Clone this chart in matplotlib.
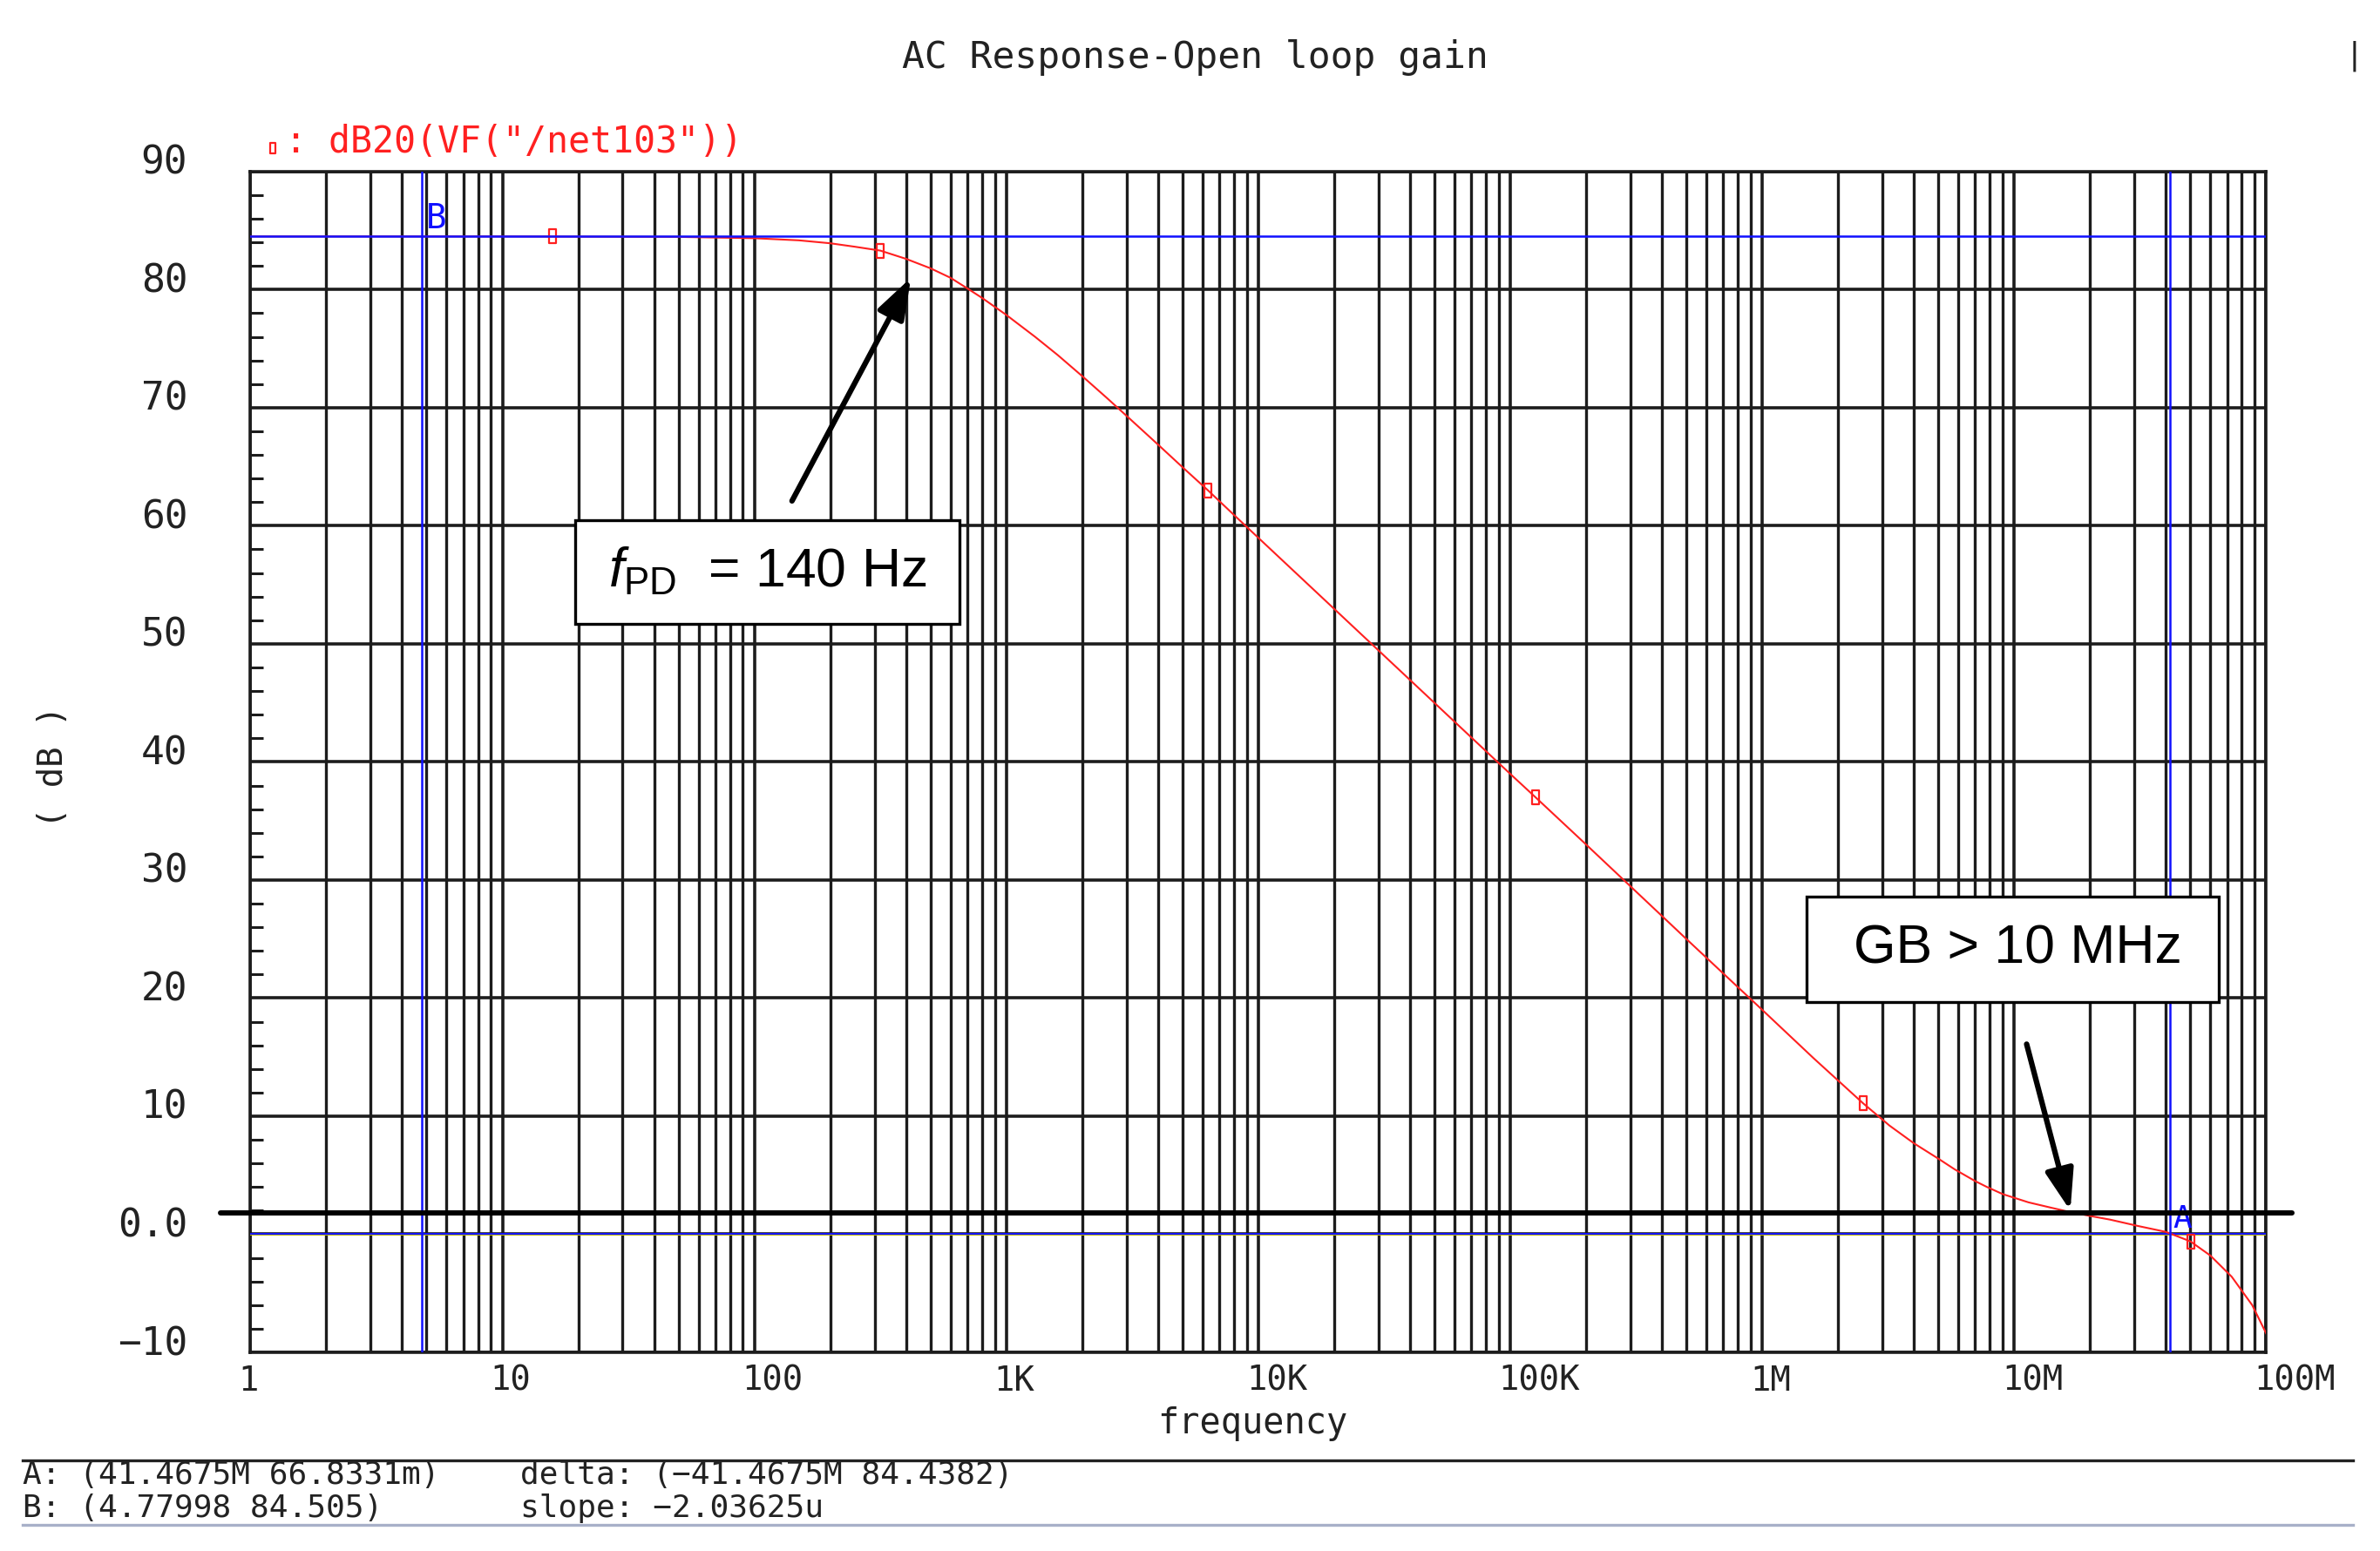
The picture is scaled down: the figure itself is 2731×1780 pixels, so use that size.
import matplotlib
matplotlib.use('Agg')
import matplotlib.pyplot as plt
import matplotlib.transforms as mtransforms
from matplotlib.ticker import FixedLocator, LogLocator, NullFormatter, MultipleLocator
from matplotlib.patches import Rectangle
from matplotlib.path import Path
from matplotlib.lines import Line2D

# ---------------- data ----------------
freq_hz = [1, 10, 50, 100, 150, 200, 250, 316, 400, 500, 600, 700, 800, 1000,
           1300, 1600, 2000, 2500, 3200, 4000, 5000, 6310, 8000, 1e4, 2e4, 5e4,
           1e5, 1.26e5, 2e5, 5e5, 1e6, 1.6e6, 2.51e6, 3.2e6, 4e6, 5e6, 5.8e6,
           7e6, 7.8e6, 9e6, 1.14e7, 1.4e7, 1.65e7, 2e7, 2.4e7, 3.1e7, 4e7,
           4.1467e7, 5e7, 6e7, 7.3e7, 8.8e7, 1e8]
gain_db = [84.5, 84.5, 84.46, 84.35, 84.17, 83.92, 83.63, 83.3, 82.6, 81.8,
           81.0, 80.1, 79.3, 77.85, 76.0, 74.45, 72.67, 70.84, 68.76, 66.87,
           64.96, 63.0, 60.92, 58.98, 52.96, 45.0, 38.98, 37.0, 33.0, 25.0,
           19.0, 14.9, 11.1, 9.2, 7.7, 6.4, 5.5, 4.5, 4.0, 3.4, 2.7, 2.25,
           1.9, 1.55, 1.24, 0.7, 0.2, 0.07, -0.6, -1.8, -3.6, -6.0, -8.4]

marker_freq_hz = [15.8, 316, 6.31e3, 1.26e5, 2.51e6, 5.01e7]
marker_gain_db = [84.5, 83.3, 63.0, 37.0, 11.1, -0.6]

cursor_a = (41.4675e6, 0.0668331)
cursor_b = (4.77998, 84.505)
gb_reference_db = 1.8

xtick_values = [1, 10, 100, 1e3, 1e4, 1e5, 1e6, 1e7, 1e8]
xtick_labels = ['1', '10', '100', '1K', '10K', '100K', '1M', '10M', '100M']
ytick_values = [90, 80, 70, 60, 50, 40, 30, 20, 10, 0, -10]
ytick_labels = ['90', '80', '70', '60', '50', '40', '30', '20', '10', '0.0', '\u221210']

title = 'AC Response-Open loop gain'
legend_label = ': dB20(VF("/net103"))'
status_a = 'A: (41.4675M 66.8331m)'
status_b = 'B: (4.77998 84.505)'
status_delta = 'delta: (\u221241.4675M 84.4382)'
status_slope = 'slope: \u22122.03625u'

# ---------------- styling ----------------
W, H = 2731, 1780
MONO = ['DejaVu Sans Mono', 'DejaVu Sans']
ARIAL = ['Liberation Sans', 'DejaVu Sans']
plt.rcParams['mathtext.fontset'] = 'custom'
plt.rcParams['mathtext.rm'] = 'Liberation Sans'
plt.rcParams['mathtext.it'] = 'Liberation Sans:italic'
GRID = '#1c1c1c'
RED = '#ff2020'
BLUE = '#1010ff'

fig = plt.figure(figsize=(W / 100, H / 100), dpi=100)
fig.patch.set_facecolor('white')

def fx(px):
    return px / W

def fy(py):
    return 1 - py / H

ax_left, ax_right, ax_top, ax_bot = 287.4, 2600.4, 196.8, 1552.0
ax = fig.add_axes([fx(ax_left), fy(ax_bot), (ax_right - ax_left) / W, (ax_bot - ax_top) / H])
ax.set_xscale('log')
ax.set_xlim(1, 1e8)
ax.set_ylim(-10, 90)

# grid
ax.xaxis.set_major_locator(FixedLocator(xtick_values))
ax.xaxis.set_minor_locator(LogLocator(base=10, subs=range(2, 10), numticks=100))
ax.xaxis.set_minor_formatter(NullFormatter())
ax.set_xticks(xtick_values)
ax.set_xticklabels(xtick_labels, fontfamily=MONO, fontsize=28, ha='left')
ax.yaxis.set_major_locator(FixedLocator(ytick_values))
ax.set_yticks(ytick_values)
ax.set_yticklabels(ytick_labels, fontfamily=MONO, fontsize=32)
ax.yaxis.set_minor_locator(MultipleLocator(2))
ax.grid(True, which='major', axis='both', color=GRID, lw=2.6)
ax.grid(True, which='minor', axis='x', color=GRID, lw=2.4)
ax.tick_params(axis='x', which='both', length=0, pad=10, colors='#222222')
ax.tick_params(axis='y', which='major', length=0, pad=52, colors='#222222')
ax.tick_params(axis='y', which='minor', direction='in', length=11, width=2.2,
               color=GRID, left=True, right=False)
for sp in ax.spines.values():
    sp.set_color(GRID)
    sp.set_linewidth(2.6)

# lift y tick labels slightly above their grid lines; shift x labels like the reference
yoff = mtransforms.ScaledTranslation(0, 0.14, fig.dpi_scale_trans)
for lab in ax.get_yticklabels():
    lab.set_transform(lab.get_transform() + yoff)
xoff = mtransforms.ScaledTranslation(-0.14, 0, fig.dpi_scale_trans)
for lab in ax.get_xticklabels():
    lab.set_transform(lab.get_transform() + xoff)

# cursors / reference lines
ax.axhline(0, color='#e8e000', lw=1.8, zorder=3)
ax.axhline(cursor_a[1], color=BLUE, lw=1.4, zorder=3.1)

# curve
ax.plot(freq_hz, gain_db, color=RED, lw=1.5, zorder=4)
rect_marker = Path([(-0.5, -1), (0.5, -1), (0.5, 1), (-0.5, 1), (-0.5, -1)],
                   [Path.MOVETO, Path.LINETO, Path.LINETO, Path.LINETO, Path.CLOSEPOLY])
ax.plot(marker_freq_hz, marker_gain_db, ls='none', marker=rect_marker, ms=11,
        mfc='none', mec=RED, mew=1.6, zorder=4.2)

ax.axhline(cursor_b[1], color=BLUE, lw=1.8, zorder=4.5)
ax.axvline(cursor_b[0], color=BLUE, lw=1.8, zorder=4.5)
ax.axvline(cursor_a[0], color=BLUE, lw=1.8, zorder=4.5)
ax.annotate('B', xy=cursor_b, xytext=(5, 1), textcoords='offset pixels',
            ha='left', va='bottom', color=BLUE, fontsize=28, fontfamily=MONO, zorder=5)
ax.annotate('A', xy=cursor_a, xytext=(3, 0), textcoords='offset pixels',
            ha='left', va='bottom', color=BLUE, fontsize=26, fontfamily=MONO, zorder=5)

# thick 0 dB / GB reference line drawn across the plot
ax.plot([-0.015, 1.0128], [gb_reference_db, gb_reference_db], color='black', lw=4.3,
        transform=ax.get_yaxis_transform(), clip_on=False, zorder=6,
        solid_capstyle='round')

# annotation boxes
for (x0, y0, x1, y1) in [(0.1611, 0.617, 0.3517, 0.7048), (0.772, 0.2967, 0.9765, 0.386)]:
    ax.add_patch(Rectangle((x0, y0), x1 - x0, y1 - y0, transform=ax.transAxes,
                           facecolor='white', edgecolor='black', lw=2.4, zorder=7))
ax.text(0.2563, 0.661, r'$f_{\mathrm{PD}}$  = 140 Hz', transform=ax.transAxes,
        ha='center', va='center', fontsize=45, fontfamily=ARIAL, zorder=8)
ax.text(0.7745 + 0.1022, 0.3413, 'GB > 10 MHz', transform=ax.transAxes,
        ha='center', va='center', fontsize=45, fontfamily=ARIAL, zorder=8)

arrow_kw = dict(arrowstyle='-|>,head_length=1.3,head_width=0.45', lw=4.5,
                color='black', shrinkA=0, shrinkB=0, mutation_scale=22,
                capstyle='round')
ax.annotate('', xy=(418, 81.0), xytext=(141, 62.1), arrowprops=arrow_kw, zorder=8)
ax.annotate('', xy=(1.67e7, 2.0), xytext=(1.12e7, 16.1), arrowprops=arrow_kw, zorder=8)

# titles and labels
fig.text(fx(1371), fy(66), title, ha='center', va='center', fontsize=31,
         fontfamily=MONO, color='#222222')
fig.text(fx(2701), fy(64), '|', ha='center', va='center', fontsize=26,
         fontfamily=MONO, color='#222222')
fig.text(fx(327), fy(163), legend_label, ha='left', va='center', fontsize=30,
         fontfamily=MONO, color=RED)
fig.add_artist(Line2D([fx(313)], [fy(170)], marker=rect_marker, ms=9, mfc='none',
                      mec=RED, mew=1.6, ls='none', transform=fig.transFigure))
fig.text(fx(61), fy(880), '( dB )', ha='center', va='center', rotation=90,
         fontsize=28, fontfamily=MONO, color='#222222')
fig.text(fx(1437), fy(1634), 'frequency', ha='center', va='center', fontsize=29,
         fontfamily=MONO, color='#222222')

# status area
fig.add_artist(Line2D([fx(26), fx(2700)], [fy(1676), fy(1676)], color='#222222', lw=2.4,
                      transform=fig.transFigure))
fig.add_artist(Line2D([fx(26), fx(2700)], [fy(1750), fy(1750)], color='#a8b0c8', lw=2.4,
                      transform=fig.transFigure))
for txt, x, y in [(status_a, 26, 1693), (status_b, 26, 1731),
                  (status_delta, 597, 1693), (status_slope, 597, 1731)]:
    fig.text(fx(x), fy(y), txt, ha='left', va='center', fontsize=26,
             fontfamily=MONO, color='#222222')

fig.savefig('out.png', dpi=100, facecolor='white')
